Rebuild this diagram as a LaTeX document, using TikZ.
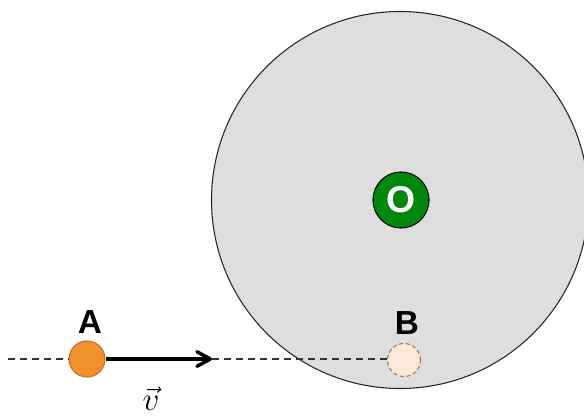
\documentclass[tikz,border=0pt]{standalone}
\usepackage{fontspec}
\newfontfamily\labfont{Liberation Sans}
\usetikzlibrary{arrows.meta}
\definecolor{diskgray}{HTML}{DEDEDE}
\definecolor{ogreen}{HTML}{00880A}
\definecolor{ballorange}{HTML}{F0902F}
\definecolor{balledge}{HTML}{C8711E}
\definecolor{ghostfill}{HTML}{FBEADB}
\definecolor{ghostedge}{HTML}{B8702E}
\definecolor{dashgray}{HTML}{333333}
\tikzset{
  lab/.style={font=\labfont\bfseries\fontsize{25}{28}\selectfont, inner sep=0pt},
  path/.style={draw=dashgray, line width=1.1pt, dash pattern=on 5.2pt off 3.8pt},
}
\begin{document}
\begin{tikzpicture}[x=0.75pt, y=-0.75pt]
\useasboundingbox (0,0) rectangle (584,416);
% big disk
\node[circle, draw=black!85, line width=0.8pt, fill=diskgray, minimum size=377*0.75pt, inner sep=0pt] (disk) at (400,200) {};
% centre O
\node[circle, draw=black, line width=0.8pt, fill=ogreen, minimum size=56*0.75pt, inner sep=0pt,
      font=\labfont\bfseries\fontsize{28}{30}\selectfont, text=white] (O) at (401,200) {O};
% balls
\node[circle, draw=balledge, line width=0.8pt, fill=ballorange, minimum size=36*0.75pt, inner sep=0pt] (A) at (87,359) {};
\node[circle, draw=ghostedge, line width=0.8pt, dash pattern=on 3pt off 2pt, fill=ghostfill, minimum size=33*0.75pt, inner sep=0pt] (B) at (404,360) {};
\node[lab] (Alab) at (90,322) {A};
\node[lab] (Blab) at (407,323) {B};
% line
\coordinate (start) at (8,359);
\coordinate (tip) at (212,359);
\draw[path] (start) -- (A.west);
\draw[path] (tip) -- (tip -| B.west);
\draw[line width=2.6pt, -{Straight Barb[length=10pt, width=11pt, line width=2.6pt, round]}] (A.east) -- (tip);
\node[inner sep=0pt, font=\fontsize{25}{28}\selectfont, anchor=base] (v) at (151,410) {$\vec{v}$};
\end{tikzpicture}
\end{document}
